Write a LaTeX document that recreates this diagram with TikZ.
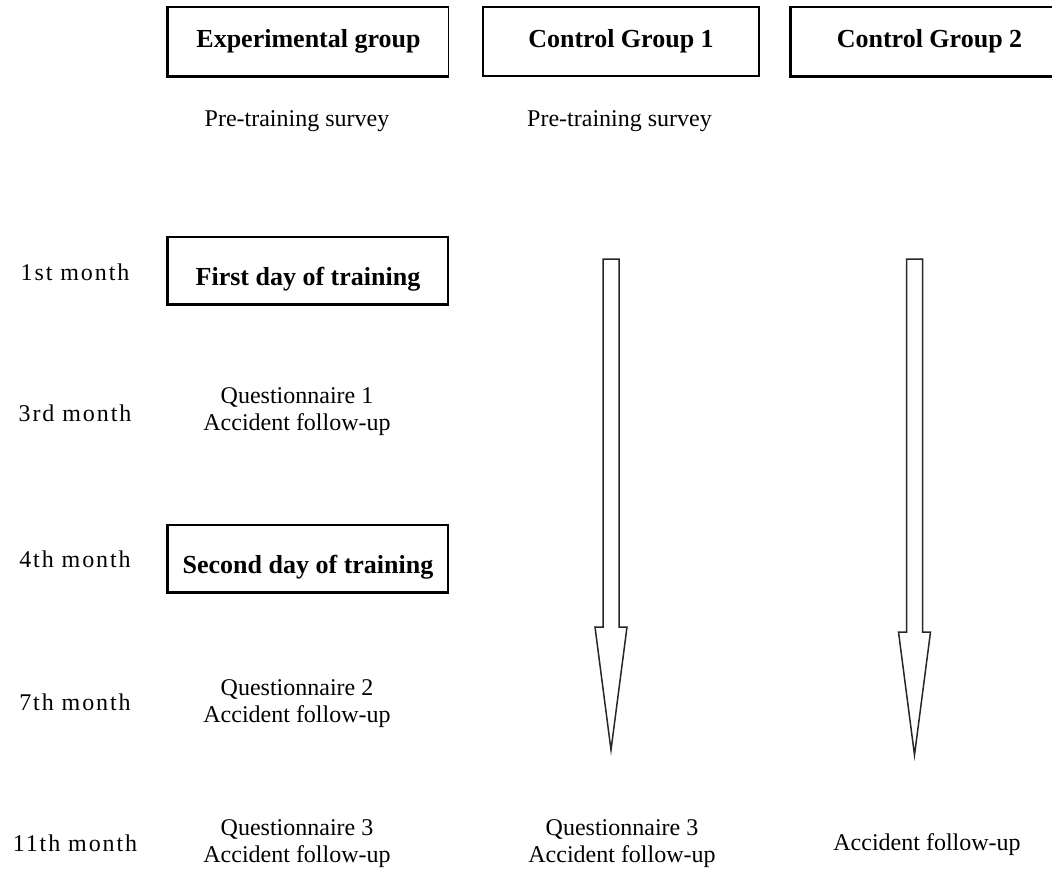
\documentclass[tikz,border=0pt]{standalone}
\usepackage{fontspec}
\setmainfont{Liberation Serif}
\usetikzlibrary{positioning}

\tikzset{
  pics/timeline/.style={code={
    \draw[arr] (-8,0) -- (8,0) -- (8,#1-123) -- (16,#1-123) -- (0,#1)
      -- (-16,#1-123) -- (-8,#1-123) -- cycle;
  }}
}

\begin{document}
\begin{tikzpicture}[
  x=1pt, y=-1pt,
  hdr/.style={draw, line width=1.5pt, minimum width=276pt, minimum height=69pt,
              font=\fontsize{26}{30}\selectfont\bfseries, inner sep=0pt},
  trainbox/.style={draw, line width=1.8pt, minimum width=280pt, minimum height=67pt,
                   font=\fontsize{26}{36}\selectfont\bfseries, align=center, inner sep=0pt},
  lbl/.style={font=\fontsize{24}{27}\selectfont, align=center, inner sep=0pt},
  month/.style={font=\fontsize{24}{27}\selectfont\addfontfeature{LetterSpace=8}, inner sep=0pt},
  arr/.style={draw=black!85, line width=1.5pt, fill=white, line join=miter},
  edge/.style={line width=2.8pt},
]
\useasboundingbox (0,0) rectangle (1052,871);

% column heads
\node[hdr, minimum width=280pt] (expgrp) at (308.5,41.5) {Experimental group};
\node[hdr, right=33pt of expgrp] (ctrlA) {Control Group 1};
\node[hdr, right=31pt of ctrlA] (ctrlB) {Control Group 2};

% months
\node[month] (m1) at (75,272) {1st month};
\node[month] (m3) at (75,413) {3rd month};
\node[month] (m4) at (75,559) {4th month};
\node[month] (m7) at (75,702) {7th month};
\node[month] (m11) at (75,843) {11th month};

% experimental group
\node[lbl] (preE) at (297,121) {Pre-training survey};
\node[trainbox] (day1) at (308,270.5) {\mbox{}\\First day of training};
\node[lbl] (qE1) at (297,411.5) {Questionnaire 1\\Accident follow-up};
\node[trainbox] (day2) at (308,558.5) {\mbox{}\\Second day of training};
\node[lbl] (qE2) at (297,703.5) {Questionnaire 2\\Accident follow-up};
\node[lbl] (qE3) at (297,843.5) {Questionnaire 3\\Accident follow-up};

% heavier left and bottom edges
\foreach \b in {expgrp, ctrlB, day1, day2}
  \draw[edge] (\b.north west) -- (\b.south west) -- (\b.south east);

% control group 1
\node[lbl] (preA) at (619.5,121) {Pre-training survey};
\pic (arrA) at (611,259) {timeline=491};
\node[lbl] (qA3) at (622,843.5) {Questionnaire 3\\Accident follow-up};

% control group 2
\pic (arrB) at (914.5,259) {timeline=496};
\node[lbl] (accB) at (927,845) {Accident follow-up};

\end{tikzpicture}
\end{document}
